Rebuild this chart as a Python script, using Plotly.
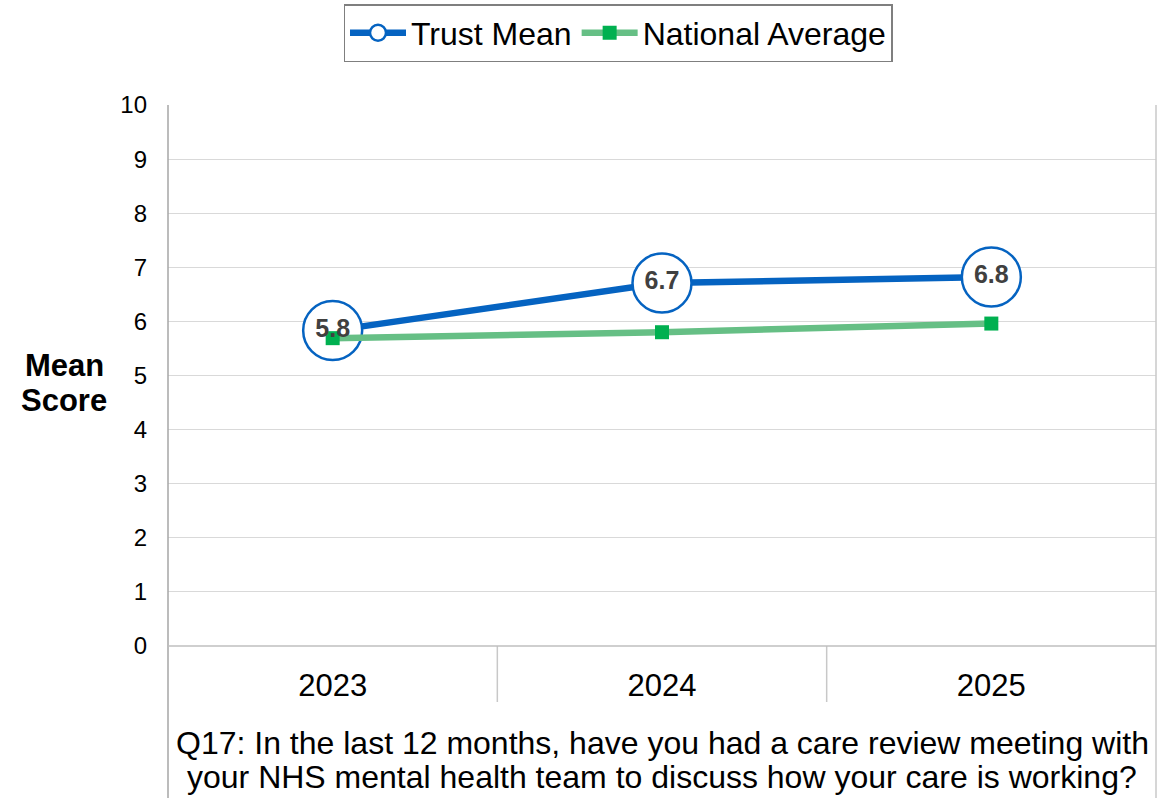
import plotly.graph_objects as go

# Survey years and mean scores (0-10 scale)
years = ["2023", "2024", "2025"]
trust_mean = [5.83, 6.71, 6.82]
trust_labels = ["5.8", "6.7", "6.8"]
national_avg = [5.69, 5.80, 5.96]

question_lines = [
    "Q17: In the last 12 months, have you had a care review meeting with",
    "your NHS mental health team to discuss how your care is working?",
]
y_title_lines = ["Mean", "Score"]

FONT = "Liberation Sans, Arial, sans-serif"
BLUE = "#0563C1"
GREEN_LINE = "#66BF85"
GREEN_MARK = "#00B050"

W, H = 1166, 798
L, R, T, B = 168, 10, 105, 152
plot_w = W - L - R
plot_h = H - T - B

fig = go.Figure()

fig.add_trace(go.Scatter(
    x=years, y=trust_mean, name="Trust Mean", mode="lines+markers",
    line=dict(color=BLUE, width=6.5),
    marker=dict(symbol="circle", size=59, color="white",
                line=dict(color=BLUE, width=2.5)),
))
fig.add_trace(go.Scatter(
    x=years, y=national_avg, name="National Average", mode="lines+markers",
    line=dict(color=GREEN_LINE, width=6.5),
    marker=dict(symbol="square", size=14, color=GREEN_MARK),
))
# Value labels sit on top of both series
fig.add_trace(go.Scatter(
    x=years, y=trust_mean, mode="text", text=trust_labels,
    textposition="middle center", showlegend=False, hoverinfo="skip",
    textfont=dict(family=FONT, size=25, color="#404040", weight="bold"),
))


def py(px_from_top):
    """Paper y coordinate for a pixel row of the page."""
    return (H - B - px_from_top) / plot_h


def px(px_from_left):
    """Paper x coordinate for a pixel column of the page."""
    return (px_from_left - L) / plot_w


shapes = []
n = len(years)
# category separators under the axis
for i in range(1, n):
    shapes.append(dict(type="line", xref="paper", yref="paper",
                       x0=i / n, x1=i / n, y0=0, y1=py(702),
                       line=dict(color="#C8C8C8", width=1.5)))
# outer frame lines running down past the category row
shapes.append(dict(type="line", xref="paper", yref="paper", x0=0, x1=0,
                   y0=1, y1=py(798), line=dict(color="#A6A6A6", width=1.5)))
shapes.append(dict(type="line", xref="paper", yref="paper", x0=1, x1=1,
                   y0=1, y1=py(798), line=dict(color="#C8C8C8", width=1.5)))
shapes.append(dict(type="line", xref="paper", yref="paper", x0=0, x1=1,
                   y0=0, y1=0, line=dict(color="#BFBFBF", width=1.5)))

annotations = []
for text, row in zip(question_lines, [743, 777]):
    annotations.append(dict(text=text, xref="paper", yref="paper",
                            x=0.5, y=py(row), xanchor="center", yanchor="middle",
                            showarrow=False,
                            font=dict(size=32, family=FONT, color="black")))
for text, row in zip(y_title_lines, [365, 400]):
    annotations.append(dict(text=f"<b>{text}</b>", xref="paper", yref="paper",
                            x=px(64), y=py(row), xanchor="center", yanchor="middle",
                            showarrow=False,
                            font=dict(size=31, family=FONT, color="black")))

fig.update_layout(
    width=W, height=H,
    margin=dict(l=L, r=R, t=T, b=B, autoexpand=False),
    paper_bgcolor="white", plot_bgcolor="white",
    font=dict(family=FONT, color="black"),
    showlegend=True,
    legend=dict(orientation="h", x=px(618), xanchor="center", y=py(4), yanchor="top",
                bordercolor="#7F7F7F", borderwidth=1.5,
                font=dict(family=FONT, size=32, color="black"),
                itemwidth=56, tracegroupgap=0),
    xaxis=dict(type="category", range=[-0.5, len(years) - 0.5],
               showgrid=False, showline=False, zeroline=False,
               ticks="", tickfont=dict(size=31, family=FONT, color="black"),
               ticklabelstandoff=18),
    yaxis=dict(range=[0, 10], dtick=1, showgrid=True, gridcolor="#D9D9D9",
               gridwidth=1.2, zeroline=False, showline=False, ticks="",
               tickfont=dict(size=24, family=FONT, color="black"),
               ticklabelstandoff=20),
    shapes=shapes,
    annotations=annotations,
)

fig.write_html("out.html")
